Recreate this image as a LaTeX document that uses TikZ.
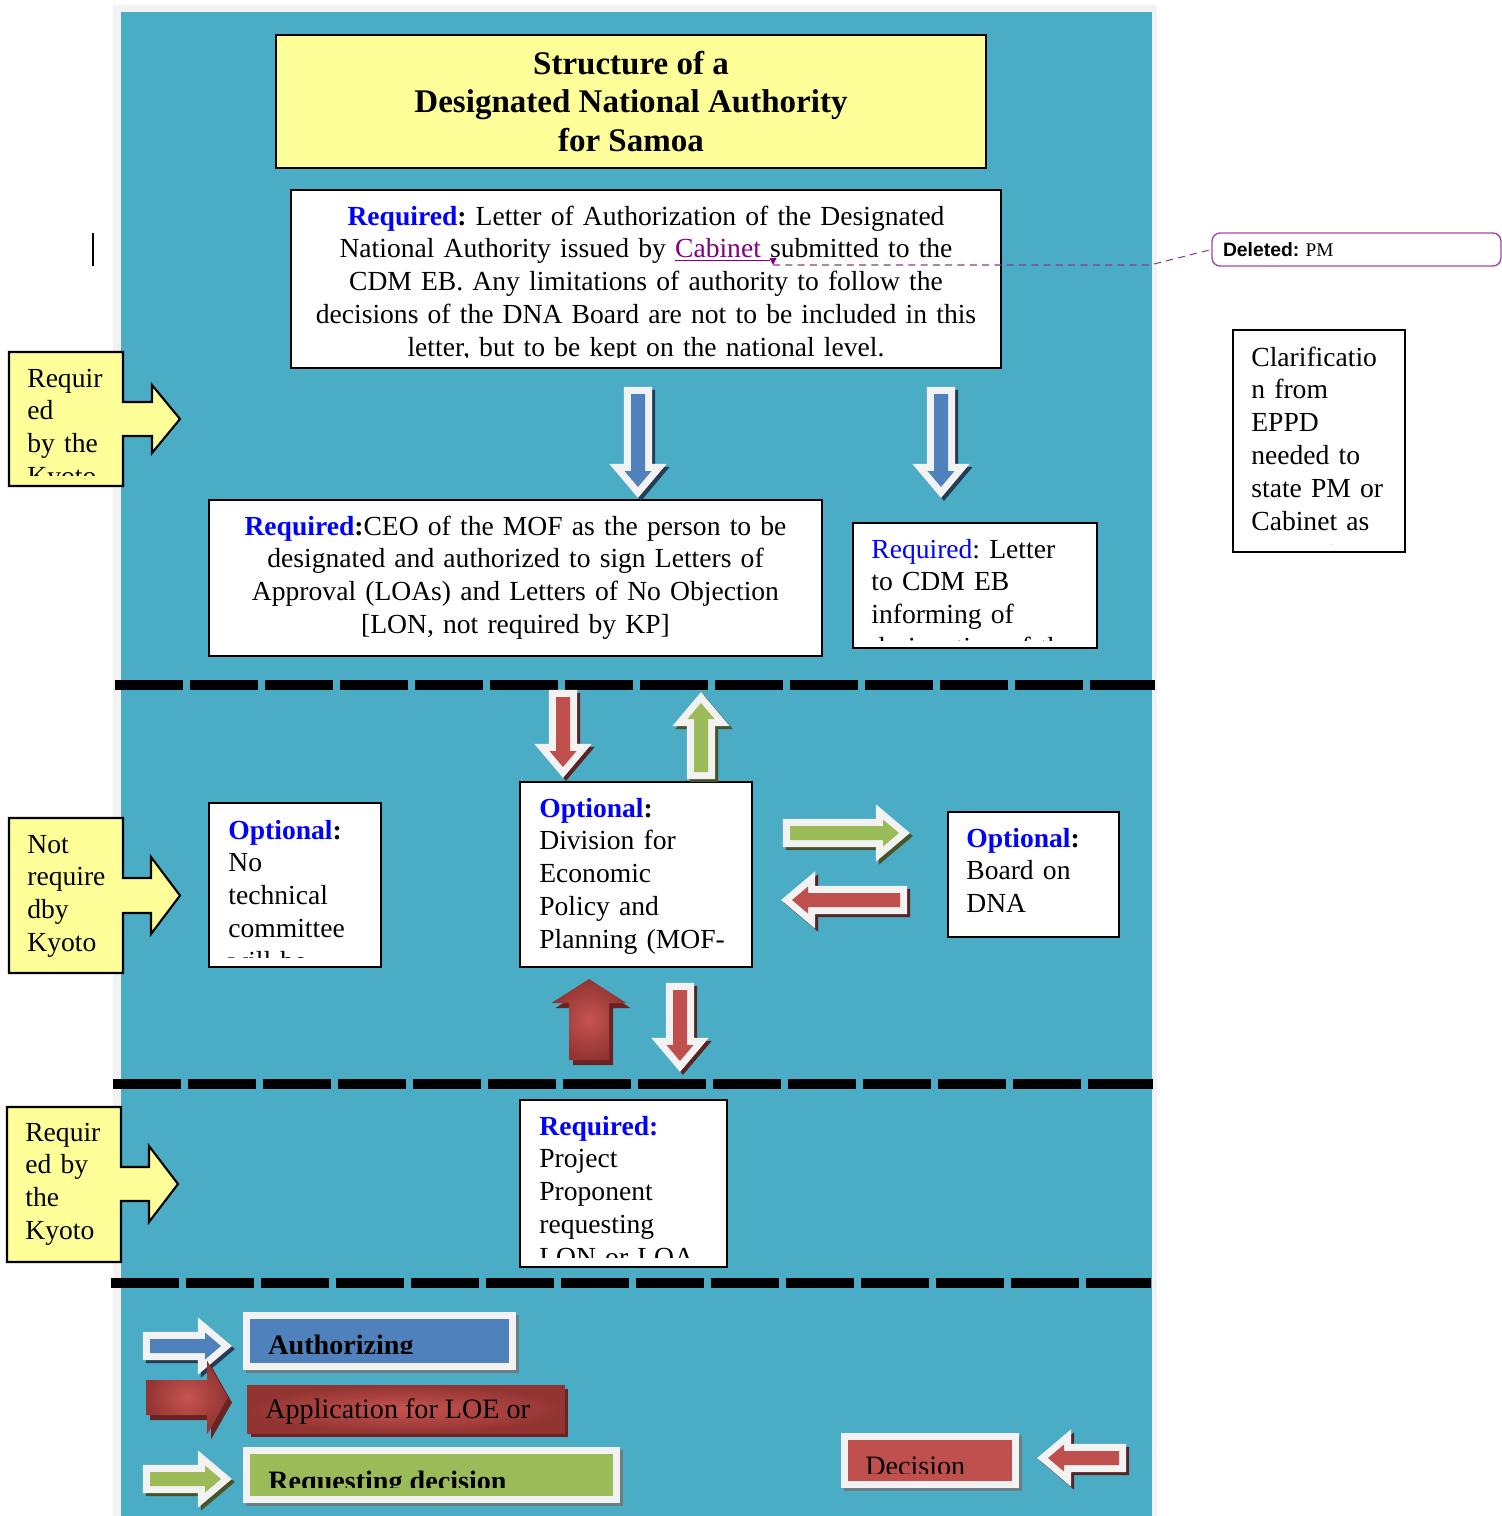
\documentclass[tikz,border=0pt]{standalone}
\usepackage{fontspec}
\setmainfont{Liberation Serif}
\newfontfamily\balloonfont{Liberation Sans}
\usetikzlibrary{shadows}
\frenchspacing

\definecolor{pageblue}{RGB}{75,172,198}
\definecolor{pagegray}{RGB}{242,242,242}
\definecolor{noteyellow}{RGB}{255,255,153}
\definecolor{wordblue}{RGB}{0,0,255}
\definecolor{cabpurple}{RGB}{128,0,128}
\definecolor{balloonpurple}{RGB}{165,70,170}
\definecolor{arrblue}{RGB}{79,129,189}
\definecolor{arrred}{RGB}{192,80,77}
\definecolor{arrgreen}{RGB}{155,187,89}
\definecolor{arrwhite}{RGB}{242,242,242}
\definecolor{redlight}{RGB}{198,84,80}
\definecolor{reddark}{RGB}{146,52,50}
\definecolor{redshadow}{RGB}{105,36,34}

% block arrow with white rim: colour, tail x, tail y, angle, length
\newcommand{\hollowarrow}[5]{%
  \begin{scope}[shift={(#2+3,#3+3)}, rotate=#4]
    \filldraw[draw=#1!45!black, fill=#1!45!black, line width=8pt, line join=miter]
      (0,-7) -- (#5-16,-7) -- (#5-16,-13.5) -- (#5,0) -- (#5-16,13.5) -- (#5-16,7) -- (0,7) -- cycle;
  \end{scope}
  \begin{scope}[shift={(#2,#3)}, rotate=#4]
    \path[fill=#1, preaction={draw=arrwhite, line width=8pt, line join=miter}]
      (0,-7) -- (#5-16,-7) -- (#5-16,-13.5) -- (#5,0) -- (#5-16,13.5) -- (#5-16,7) -- (0,7) -- cycle;
  \end{scope}}

% shaded red block arrow: tail x, tail y, angle, length, shaft, head, head length
\newcommand{\solidarrow}[7]{%
  \begin{scope}[shift={(#1+4,#2+5)}, rotate=#3]
    \fill[redshadow] (0,-#5) -- (#4-#7,-#5) -- (#4-#7,-#6) -- (#4,0) -- (#4-#7,#6) -- (#4-#7,#5) -- (0,#5) -- cycle;
  \end{scope}
  \begin{scope}[shift={(#1,#2)}, rotate=#3]
    \shade[inner color=redlight, outer color=reddark] (0,-#5) -- (#4-#7,-#5) -- (#4-#7,-#6) -- (#4,0) -- (#4-#7,#6) -- (#4-#7,#5) -- (0,#5) -- cycle;
  \end{scope}}

\begin{document}
\begin{tikzpicture}[x=0.02cm, y=-0.02cm,
  font=\fontsize{15.7}{18.7}\selectfont,
  box/.style={draw, line width=1.2pt, fill=white, inner sep=0pt, outer sep=0pt},
  lefttext/.style={anchor=base west, inner sep=0pt, text width=5cm, align=left},
  midtext/.style={anchor=base, inner sep=0pt, align=center},
  legtext/.style={anchor=base west, inner sep=0pt, font=\fontsize{16}{18.7}\selectfont},
  callout/.style={draw, line width=1.2pt, fill=noteyellow, line join=miter},
  separator/.style={line width=5.7pt, dash pattern=on 1.36cm off 0.14cm},
  balloon/.style={draw=balloonpurple, line width=0.8pt, rounded corners=0.16cm, fill=white, inner xsep=0.22cm, inner ysep=0pt, font=\fontsize{11}{13}\selectfont},
  legbox/.style={draw=arrwhite, line width=4pt, inner sep=0pt, drop shadow={shadow xshift=0.06cm, shadow yshift=-0.06cm, fill=black!55, draw=black!55, line width=4pt, opacity=0.8}},
]
\useasboundingbox (0,0) rectangle (1502,1516);
\fill[pagegray] (113,5) rectangle (1157,1516);
\fill[pageblue] (121,12) rectangle (1152,1516);

\draw[separator] (115,685) -- (1155,685);
\draw[separator] (113,1084) -- (1153,1084);
\draw[separator] (111,1283) -- (1151,1283);

\node[box, fill=noteyellow, minimum width=14.2cm, minimum height=2.66cm, font=\fontsize{18.8}{21.9}\selectfont\bfseries, align=center] (title) at (631,101.5) {Structure of a\\ Designated National Authority\\ for Samoa};

% top letter
\node[box, minimum width=14.2cm, minimum height=3.56cm] (letter) at (646,279) {};
\begin{scope}
  \clip (291,190) rectangle (1001,357.5);
  \node[midtext, text width=14.2cm] (lettertext) at (646,225) {%
    \textbf{\textcolor{wordblue}{Required}:} Letter of Authorization of the Designated\\
    National Authority issued by {\color{cabpurple}\underline{Cabinet\ }}submitted to the\\
    CDM EB. Any limitations of authority to follow the\\
    decisions of the DNA Board are not to be included in this\\
    letter, but to be kept on the national level.};
\end{scope}

\draw[line width=1.1pt] (93,233) -- (93,266);
\coordinate (cabmark) at (773,265);
\coordinate (bend) at (1150,265);
\node[balloon, minimum width=5.78cm, minimum height=0.66cm, text width=5.34cm, align=left] (deleted) at (1356.5,249.5) {{\balloonfont\bfseries Deleted:} PM};
\draw[balloonpurple!85!black, dash pattern=on 4pt off 3pt, line width=0.6pt] (cabmark) -- (bend) -- (deleted.west);
\fill[cabpurple] (cabmark) -- ++(-3.5,-7) -- ++(7,0) -- cycle;

\node[box, minimum width=3.44cm, minimum height=4.44cm] (clarif) at (1319,441) {};
\begin{scope}
  \clip (1233,330) rectangle (1405,544);
  \node[lefttext] (clariftext) at (1251,366) {Clarificatio\\ n from\\ EPPD\\ needed to\\ state PM or\\ Cabinet as\\ approving};
\end{scope}

% first level
\node[box, minimum width=12.26cm, minimum height=3.12cm] (ceo) at (515.5,578) {};
\node[midtext, text width=12.26cm] (ceotext) at (515.5,535) {%
  \textbf{\textcolor{wordblue}{Required}:}CEO of the MOF as the person to be\\
  designated and authorized to sign Letters of\\
  Approval (LOAs) and Letters of No Objection\\
  {[LON, not required by KP]}};

\node[box, minimum width=4.88cm, minimum height=2.5cm] (eb) at (975,585.5) {};
\begin{scope}
  \clip (853,523) rectangle (1097,640);
  \node[lefttext] (ebtext) at (871,558) {\textcolor{wordblue}{Required}: Letter\\ to CDM EB\\ informing of\\ designation of the};
\end{scope}

% second level
\node[box, minimum width=3.44cm, minimum height=3.28cm] (tech) at (295,885) {};
\begin{scope}
  \clip (209,803) rectangle (381,957);
  \node[lefttext] (techtext) at (228,839) {\textbf{\textcolor{wordblue}{Optional}:}\\ No\\ technical\\ committee\\ will be};
\end{scope}

\node[box, minimum width=4.64cm, minimum height=3.7cm] (division) at (636,874.5) {};
\node[lefttext] (divisiontext) at (539,817) {\textbf{\textcolor{wordblue}{Optional}:}\\ Division for\\ Economic\\ Policy and\\ Planning (MOF-};

\node[box, minimum width=3.42cm, minimum height=2.5cm] (board) at (1033.5,874.5) {};
\node[lefttext] (boardtext) at (966,847) {\textbf{\textcolor{wordblue}{Optional}:}\\ Board on\\ DNA};

% third level
\node[box, minimum width=4.14cm, minimum height=3.34cm] (project) at (623.5,1183.5) {};
\begin{scope}
  \clip (520,1100) rectangle (727,1257);
  \node[lefttext] (projecttext) at (539,1135) {\textbf{\textcolor{wordblue}{Required:}}\\ Project\\ Proponent\\ requesting\\ LON or LOA};
\end{scope}

% side callouts
\draw[callout] (9,352) -- (123,352) -- (123,402) -- (152,402) -- (152,385) -- (180,419) -- (152,453) -- (152,436) -- (123,436) -- (123,486) -- (9,486) -- cycle;
\begin{scope}
  \clip (9,352) rectangle (123,475);
  \node[lefttext] (kyotoa) at (27,387) {Requir\\ ed\\ by the\\ Kyoto};
\end{scope}
\draw[callout] (9,818) -- (123,818) -- (123,878) -- (151,878) -- (151,857) -- (180,895.5) -- (151,934) -- (151,913) -- (123,913) -- (123,973) -- (9,973) -- cycle;
\node[lefttext] (kyotob) at (27,853) {Not\\ require\\ dby\\ Kyoto};
\draw[callout] (7,1107) -- (121,1107) -- (121,1167) -- (149,1167) -- (149,1146) -- (178,1184) -- (149,1222) -- (149,1201) -- (121,1201) -- (121,1262) -- (7,1262) -- cycle;
\node[lefttext] (kyotoc) at (25,1141) {Requir\\ ed by\\ the\\ Kyoto};

% block arrows
\hollowarrow{arrblue}{638}{394}{-90}{93}
\hollowarrow{arrblue}{941}{394}{-90}{93}
\hollowarrow{arrred}{563}{697}{-90}{70}
\hollowarrow{arrgreen}{701}{772}{90}{69}
\hollowarrow{arrgreen}{790}{833}{0}{109}
\hollowarrow{arrred}{900}{900}{180}{108}
\hollowarrow{arrred}{680}{990}{-90}{71}
\solidarrow{589}{1060}{90}{81}{20}{37.5}{24}

% legend
\hollowarrow{arrblue}{150}{1346}{0}{71}
\node[legbox, fill=arrblue, minimum width=5.32cm, minimum height=1.02cm] (authorizing) at (379.5,1341) {};
\begin{scope}
  \clip (250,1319) rectangle (509,1353);
  \node[legtext, font=\fontsize{16}{18.7}\selectfont\bfseries] (authtext) at (268,1354) {Authorizing};
\end{scope}

\solidarrow{146}{1397.5}{0}{82}{17.5}{37}{21}
\node[inner sep=0pt, minimum width=6.36cm, minimum height=0.96cm, inner color=redlight, outer color=reddark, drop shadow={shadow xshift=0.07cm, shadow yshift=-0.08cm, fill=redshadow, opacity=1}] (application) at (406,1409) {};
\node[legtext] (apptext) at (265,1418) {Application for LOE or};

\hollowarrow{arrgreen}{150}{1479}{0}{71}
\node[legbox, fill=arrgreen, minimum width=7.4cm, minimum height=0.98cm] (requesting) at (431.5,1475) {};
\begin{scope}
  \clip (250,1454) rectangle (613,1487);
  \node[legtext, font=\fontsize{16}{18.7}\selectfont\bfseries] (reqtext) at (268,1490.7) {Requesting decision};
\end{scope}

\node[legbox, fill=arrred, minimum width=3.42cm, minimum height=0.96cm] (decision) at (930,1460.5) {};
\begin{scope}
  \clip (848,1440) rectangle (1012,1473.5);
  \node[legtext] (dectext) at (865,1475) {Decision};
\end{scope}
\hollowarrow{arrred}{1119}{1458}{180}{71}
\end{tikzpicture}
\end{document}
